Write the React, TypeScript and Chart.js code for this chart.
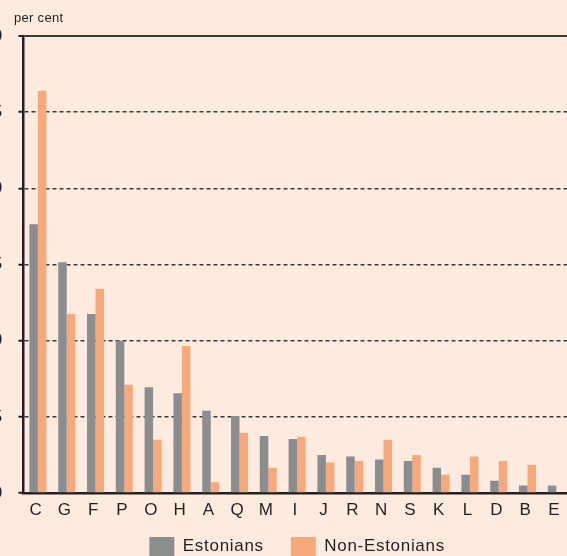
import React, { useEffect, useRef } from "react";
import { Chart, registerables } from "chart.js";

Chart.register(...registerables);

const categories = ["C", "G", "F", "P", "O", "H", "A", "Q", "M", "I", "J", "R", "N", "S", "K", "L", "D", "B", "E"];
const estonians = [17.65, 15.15, 11.75, 10.0, 6.95, 6.55, 5.4, 5.05, 3.75, 3.55, 2.5, 2.4, 2.2, 2.1, 1.65, 1.2, 0.8, 0.5, 0.5];
const nonEstonians = [26.4, 11.75, 13.4, 7.1, 3.5, 9.65, 0.7, 3.95, 1.65, 3.7, 2.0, 2.1, 3.5, 2.5, 1.2, 2.4, 2.1, 1.85, 0];
const seriesNames = ["Estonians", "Non-Estonians"];
const yMin = 0;
const yMax = 30;
const yStep = 5;
const yUnit = "per cent";

const BG = "#fdebe0";
const GREY = "#8b8d8f";
const ORANGE = "#f8a97c";
const INK = "#231f20";
const FONT = "'Liberation Sans', Arial, sans-serif";

const spacingPlugin = {
  id: "letterSpacing",
  beforeUpdate(chart: any) {
    chart.ctx.letterSpacing = "0.7px";
  },
  beforeDraw(chart: any) {
    chart.ctx.letterSpacing = "0.7px";
  },
  afterLayout(chart: any) {
    const lg = chart.legend;
    if (lg) {
      lg.top -= 11;
      lg.bottom -= 11;
    }
  },
};

const unitPlugin = {
  id: "unitLabel",
  afterDraw(chart: any) {
    const { ctx, chartArea } = chart;
    ctx.save();
    ctx.letterSpacing = "0.3px";
    ctx.font = `13px ${FONT}`;
    ctx.fillStyle = INK;
    ctx.textAlign = "left";
    ctx.textBaseline = "alphabetic";
    ctx.fillText(yUnit, chartArea.left - 9.5, 22);
    ctx.restore();
  },
};

export default function App() {
  const ref = useRef<HTMLCanvasElement | null>(null);

  useEffect(() => {
    document.body.style.margin = "0";
    document.body.style.background = BG;
    const canvas = ref.current;
    if (!canvas) return;
    const chart = new Chart(canvas, {
      type: "bar",
      data: {
        labels: categories,
        datasets: [
          { label: seriesNames[0], data: estonians, backgroundColor: GREY, borderWidth: 0 },
          { label: seriesNames[1], data: nonEstonians, backgroundColor: ORANGE, borderWidth: 0 },
        ],
      },
      plugins: [spacingPlugin, unitPlugin],
      options: {
        responsive: false,
        animation: false,
        maintainAspectRatio: false,
        layout: { padding: { top: 36, right: 16.3, bottom: 3, left: 0 } },
        datasets: {
          bar: { categoryPercentage: 0.59, barPercentage: 1.0 },
        },
        plugins: {
          legend: {
            position: "bottom",
            fullSize: false,
            labels: {
              font: { family: FONT, size: 17 },
              color: INK,
              boxWidth: 25,
              boxHeight: 19,
              padding: 27,
            },
          },
          tooltip: { enabled: false },
          title: { display: false },
        },
        scales: {
          x: {
            grid: { display: false, drawTicks: false },
            border: { display: true, color: INK, width: 2.5 },
            ticks: {
              color: INK,
              font: { family: FONT, size: 17 },
              padding: 7,
              labelOffset: -2,
              maxRotation: 0,
              autoSkip: false,
            },
            afterFit: (scale: any) => {
              scale.height = 28;
            },
          },
          y: {
            min: yMin,
            max: yMax,
            ticks: {
              stepSize: yStep,
              color: INK,
              font: { family: FONT, size: 17 },
              padding: 15.5,
            },
            grid: {
              color: "#3a3a3a",
              lineWidth: (c: any) => (c.tick && c.tick.value === yMax ? 2 : 1.5),
              drawTicks: true,
              tickLength: 5,
              tickColor: INK,
              tickWidth: 2,
              tickBorderDash: [],
            },
            border: {
              display: true,
              color: INK,
              width: 2.5,
              dash: (c: any) => (c.tick && c.tick.value === yMax ? [] : [4, 3]),
            },
            afterFit: (scale: any) => {
              scale.width = 63.5;
            },
          },
        },
      },
    });
    return () => chart.destroy();
  }, []);

  return (
    <div
      style={{
        position: "fixed",
        left: 0,
        top: 0,
        width: 567,
        height: 556,
        overflow: "hidden",
        background: BG,
      }}
    >
      <div style={{ position: "absolute", left: -40, top: 0, width: 627, height: 580 }}>
        <canvas ref={ref} width={627} height={580} style={{ width: 627, height: 580, display: "block" }} />
      </div>
    </div>
  );
}
